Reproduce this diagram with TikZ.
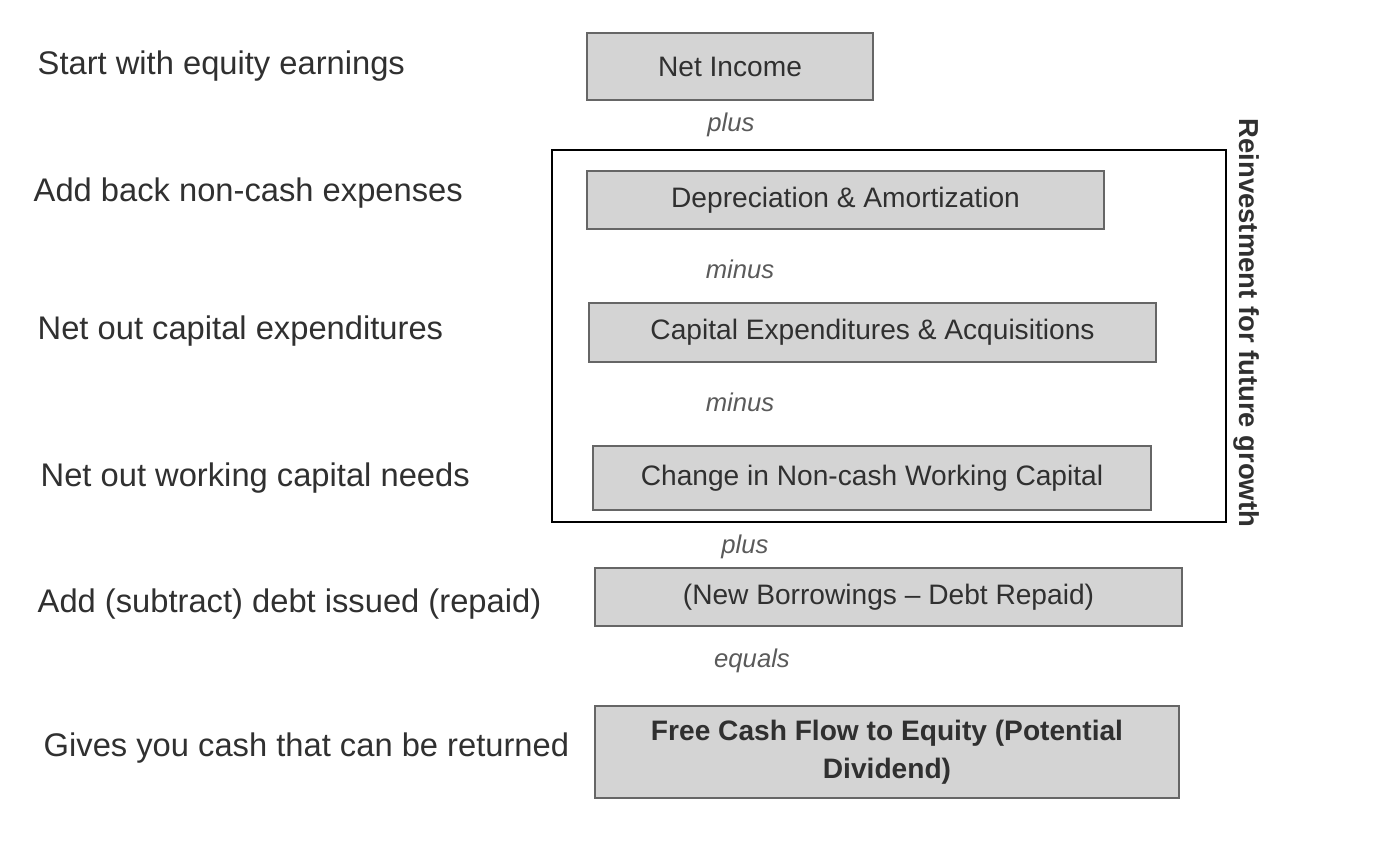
\documentclass[tikz,border=0pt]{standalone}
\usepackage{fontspec}
\setmainfont{Liberation Sans}
\usetikzlibrary{positioning}
\definecolor{boxfill}{HTML}{D4D4D4}
\definecolor{boxline}{HTML}{666666}
\definecolor{txt}{HTML}{303030}
\definecolor{optxt}{HTML}{5A5A5A}

\begin{document}
\begin{tikzpicture}[x=0.01cm,y=-0.01cm,
    stepbox/.style={draw=boxline, line width=0.6pt, fill=boxfill, inner sep=0pt, outer sep=0pt,
      font=\fontsize{8}{10.8}\selectfont, text=txt, align=center},
    side/.style={anchor=west, inner sep=0pt, font=\fontsize{9.3}{11}\selectfont, text=txt},
    op/.style={inner sep=0pt, font=\fontsize{7.3}{9}\selectfont\itshape, text=optxt}]
    \useasboundingbox (0,0) rectangle (1400,854);
    % left column
    \node[side] (lstart) at (37,66) {Start with equity earnings};
    \node[side] (ladd) at (33,193) {Add back non-cash expenses};
    \node[side] (lcapex) at (37,331) {Net out capital expenditures};
    \node[side] (lwcap) at (40,478) {Net out working capital needs};
    \node[side] (ldebt) at (37,604) {Add (subtract) debt issued (repaid)};
    \node[side] (lret) at (43,748) {Gives you cash that can be returned};
    % reinvestment frame
    \draw[line width=0.8pt] (552,150) rectangle (1226,522);
    \node[rotate=-90, inner sep=0pt, font=\fontsize{7.8}{9}\selectfont\bfseries, text=txt] (reinv) at (1247,323) {Reinvestment for future growth};
    % boxes
    \node[stepbox, minimum width=2.86cm, minimum height=0.67cm] (netinc) at (730,66.5) {Net Income};
    \node[stepbox, minimum width=5.17cm, minimum height=0.58cm] (deprec) at (845.5,200) {Depreciation \& Amortization};
    \node[stepbox, minimum width=5.67cm, minimum height=0.59cm] (capex) at (872.5,332.5) {Capital Expenditures \& Acquisitions};
    \node[stepbox, minimum width=5.58cm, minimum height=0.64cm] (wcap) at (872,478) {Change in Non-cash Working Capital};
    \node[stepbox, minimum width=5.87cm, minimum height=0.58cm] (debt) at (888.5,597) {(New Borrowings -- Debt Repaid)};
    \node[stepbox, minimum width=5.84cm, minimum height=0.92cm, font=\fontsize{8}{10.8}\selectfont\bfseries] (fcfe) at (887,752) {Free Cash Flow to Equity (Potential\\Dividend)};
    % operators
    \node[op] (op1) at (731,125) {plus};
    \node[op] (op2) at (740,269) {minus};
    \node[op] (op3) at (740,402) {minus};
    \node[op] (op4) at (745,547) {plus};
    \node[op] (op5) at (752,661) {equals};
\end{tikzpicture}
\end{document}
